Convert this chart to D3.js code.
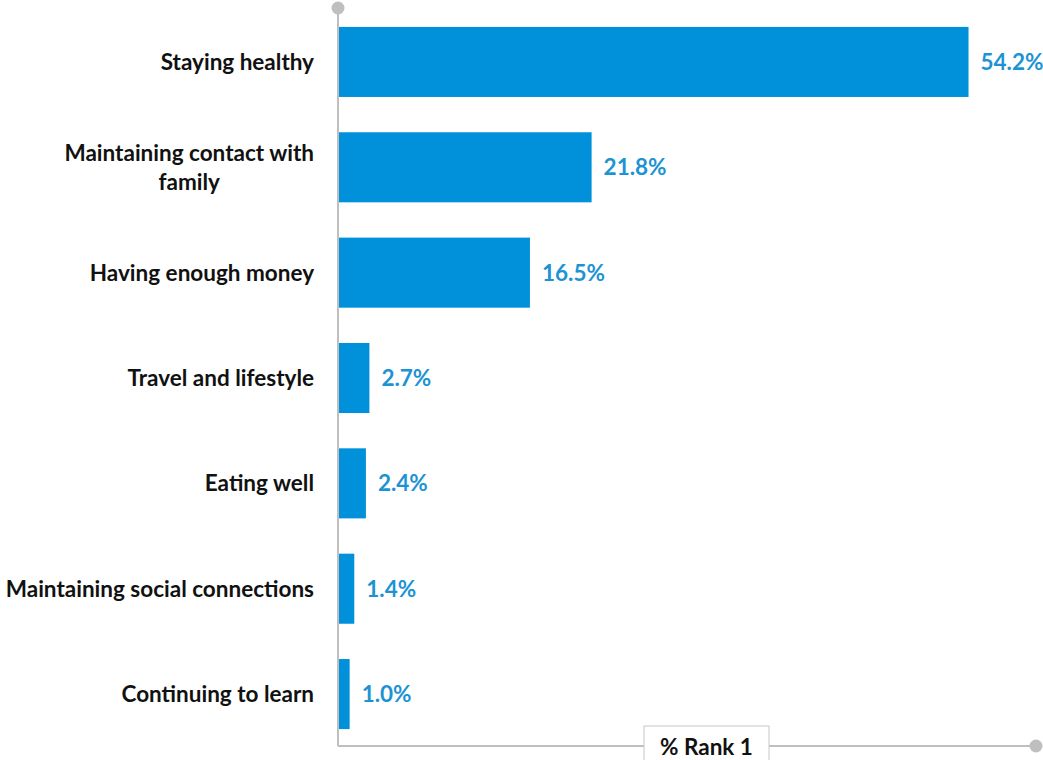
<!DOCTYPE html>
<html>
<head>
<meta charset="utf-8">
<script src="https://cdn.jsdelivr.net/npm/d3@7"></script>
<style>
  html, body { margin: 0; padding: 0; background: #ffffff; }
  svg { display: block; }
  text { font-family: Lato, "Open Sans", sans-serif; font-weight: 700; }
</style>
</head>
<body>
<svg id="chart" width="1043" height="760"></svg>
<script>
// Answers ranked first, share of respondents (%)
const categories = [
  ["Staying healthy"],
  ["Maintaining contact with", "family"],
  ["Having enough money"],
  ["Travel and lifestyle"],
  ["Eating well"],
  ["Maintaining social connections"],
  ["Continuing to learn"]
];
const values = [54.2, 21.8, 16.5, 2.7, 2.4, 1.4, 1.0];
const axisTitle = "% Rank 1";

const svg = d3.select("#chart");
const x0 = 338, x1 = 1036, yTop = 8, yBottom = 746;
const fontSize = 22.5;

const keys = categories.map((c, i) => i);
const x = d3.scaleLinear().domain([0, 60]).range([x0, x1]);
const y = d3.scaleBand().domain(keys).range([yTop + 1, yBottom + 1])
  .paddingInner(0.335).paddingOuter(0.17);

const barColor = "#0091da";
const labelColor = "#1c93d3";
const axisColor = "#bfbfbf";

// bars
svg.append("g").selectAll("rect").data(keys).join("rect")
  .attr("x", x(0))
  .attr("y", i => y(i))
  .attr("width", i => x(values[i]) - x(0))
  .attr("height", y.bandwidth())
  .attr("fill", barColor);

// value labels
svg.append("g").selectAll("text").data(keys).join("text")
  .attr("x", i => x(values[i]) + 12)
  .attr("y", i => y(i) + y.bandwidth() / 2)
  .attr("dy", "0.35em")
  .attr("fill", labelColor)
  .attr("font-size", fontSize)
  .text(i => values[i].toFixed(1) + "%");

// category labels: multi-line blocks are right-aligned, lines centred within the block
const labelRight = 314;
const lineH = 29;
const catG = svg.append("g");
keys.forEach(i => {
  const lines = categories[i];
  const g = catG.append("g");
  const cy = y(i) + y.bandwidth() / 2;
  const texts = lines.map((ln, k) => g.append("text")
    .attr("font-size", fontSize)
    .attr("fill", "#111")
    .attr("y", cy + (k - (lines.length - 1) / 2) * lineH)
    .attr("dy", "0.35em")
    .text(ln));
  const widths = texts.map(t => t.node().getComputedTextLength());
  const maxW = d3.max(widths);
  texts.forEach(t => t.attr("text-anchor", "middle").attr("x", labelRight - maxW / 2));
});

// axis lines with round end markers
svg.append("line").attr("x1", x0).attr("x2", x0).attr("y1", yTop).attr("y2", yBottom)
  .attr("stroke", axisColor).attr("stroke-width", 2);
svg.append("line").attr("x1", x0).attr("x2", x1).attr("y1", yBottom).attr("y2", yBottom)
  .attr("stroke", axisColor).attr("stroke-width", 2);
svg.append("circle").attr("cx", x0).attr("cy", yTop).attr("r", 6.5).attr("fill", axisColor);
svg.append("circle").attr("cx", x1).attr("cy", yBottom).attr("r", 6.5).attr("fill", axisColor);

// axis title box
const bx = 644, bw = 125, by = 726;
svg.append("rect").attr("x", bx).attr("y", by).attr("width", bw).attr("height", 50)
  .attr("fill", "#fff").attr("stroke", "#c8c8c8").attr("stroke-width", 1);
svg.append("text").attr("x", bx + bw / 2).attr("y", 755).attr("text-anchor", "middle")
  .attr("font-size", fontSize).attr("fill", "#111").text(axisTitle);
</script>
</body>
</html>
